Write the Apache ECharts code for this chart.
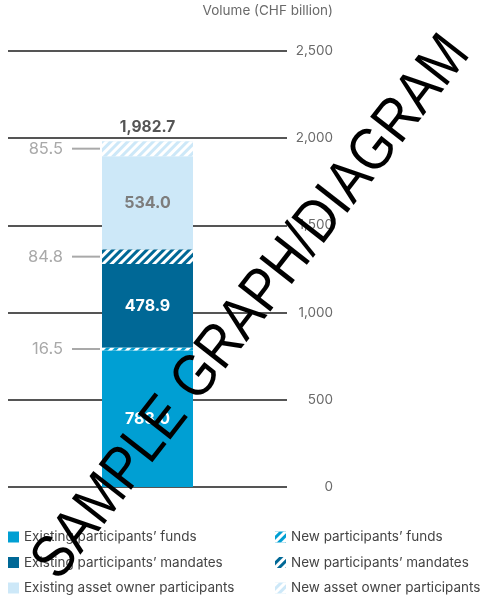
<!DOCTYPE html>
<html>
<head>
<meta charset="utf-8">
<script src="https://cdn.jsdelivr.net/npm/echarts@6/dist/echarts.min.js"></script>
<style>
html,body{margin:0;padding:0;background:#fff;}
#chart{width:485px;height:599px;}
</style>
</head>
<body>
<div id="chart"></div>
<script>
const categories = ['Volume'];
const seriesNames = [
  'Existing participants\u2019 funds',
  'New participants\u2019 funds',
  'Existing participants\u2019 mandates',
  'New participants\u2019 mandates',
  'Existing asset owner participants',
  'New asset owner participants'
];
const existingFunds = [783.0];
const newFunds = [16.5];
const existingMandates = [478.9];
const newMandates = [84.8];
const existingAssetOwners = [534.0];
const newAssetOwners = [85.5];
const yMin = 0, yMax = 2500, yInterval = 500;
const axisTitle = 'Volume (CHF billion)';
const watermark = 'SAMPLE GRAPH/DIAGRAM';

const colors = {
  funds: '#009fd3',
  mandates: '#006896',
  owners: '#cde8f8'
};
const FONT = 'Inter, "Noto Sans", sans-serif';

const totals = categories.map((_, i) =>
  existingFunds[i] + newFunds[i] + existingMandates[i] + newMandates[i] + existingAssetOwners[i] + newAssetOwners[i]);

function hatch() {
  return {
    symbol: 'rect',
    symbolSize: 1,
    dashArrayX: [1, 0],
    dashArrayY: [2.5, 3],
    rotation: -Math.PI / 4,
    color: '#ffffff'
  };
}

function insideLabel(color) {
  return {
    show: true,
    position: 'inside',
    color: color,
    fontFamily: FONT,
    fontSize: 16,
    fontWeight: 'bold',
    formatter: p => p.value.toFixed(1)
  };
}
const sideLabel = {
  show: true,
  position: 'left',
  distance: 2,
  formatter: p => '{v|' + p.value.toFixed(1) + '}{l|}',
  rich: {
    v: { color: '#a9a9a9', fontFamily: FONT, fontSize: 16.5, padding: [0, 9, 0, 0] },
    l: { width: 28, height: 2, backgroundColor: '#a9a9a9' }
  }
};

function solid(name, data, color, labelColor) {
  return {
    name, type: 'bar', stack: 'total', data, barWidth: 91,
    itemStyle: { color },
    label: insideLabel(labelColor),
    emphasis: { disabled: true }, z: 3
  };
}
function hatched(name, data, color) {
  return {
    name, type: 'bar', stack: 'total', data, barWidth: 91,
    itemStyle: { color, decal: hatch() },
    label: sideLabel,
    emphasis: { disabled: true }, z: 3
  };
}

const legendText = { color: '#444444', fontFamily: FONT, fontSize: 13.5, lineHeight: 14 };

const option = {
  animation: false,
  aria: { enabled: false },
  grid: { left: 8, right: 198, top: 51, bottom: 112, containLabel: false },
  xAxis: {
    type: 'category', data: categories,
    show: false
  },
  yAxis: {
    type: 'value', position: 'right', min: yMin, max: yMax, interval: yInterval,
    axisLine: { show: false }, axisTick: { show: false },
    splitLine: { show: true, lineStyle: { color: '#555555', width: 2 } },
    axisLabel: {
      align: 'right', margin: 46, color: '#6a6a6a', fontFamily: FONT, fontSize: 13.5,
      formatter: v => v.toLocaleString('en-US')
    }
  },
  legend: [
    {
      orient: 'vertical', left: 8, top: 530, padding: 0, height: 80,
      itemWidth: 11, itemHeight: 11, itemGap: 11.5,
      icon: 'rect', selectedMode: false, textStyle: legendText,
      data: [seriesNames[0], seriesNames[2], seriesNames[4]]
    },
    {
      orient: 'vertical', left: 275, top: 530, padding: 0, height: 80,
      itemWidth: 11, itemHeight: 11, itemGap: 11.5,
      icon: 'rect', selectedMode: false, textStyle: legendText,
      data: [seriesNames[1], seriesNames[3], seriesNames[5]]
    }
  ],
  series: [
    solid(seriesNames[0], existingFunds, colors.funds, '#ffffff'),
    hatched(seriesNames[1], newFunds, colors.funds),
    solid(seriesNames[2], existingMandates, colors.mandates, '#ffffff'),
    hatched(seriesNames[3], newMandates, colors.mandates),
    solid(seriesNames[4], existingAssetOwners, colors.owners, '#7d7d7d'),
    hatched(seriesNames[5], newAssetOwners, colors.owners),
    {
      name: 'Total', type: 'scatter', data: totals, symbolSize: 0, z: 4,
      label: {
        show: true, position: 'top', distance: 6, color: '#2b2b2b',
        fontFamily: FONT, fontSize: 15.5, fontWeight: 'bold',
        formatter: p => p.value.toLocaleString('en-US', { minimumFractionDigits: 1, maximumFractionDigits: 1 })
      },
      emphasis: { disabled: true }
    }
  ],
  graphic: [
    {
      type: 'text', right: 152, top: 4,
      style: { text: axisTitle, fill: '#6a6a6a', font: '13.5px ' + FONT }
    },
    {
      type: 'text', x: 252, y: 308, rotation: 52 * Math.PI / 180, scaleX: 0.87, scaleY: 1, z: 100,
      style: {
        text: watermark, fill: '#000000', font: '60px "Liberation Sans", Arial, sans-serif',
        align: 'center', verticalAlign: 'middle'
      }
    }
  ]
};

const chart = echarts.init(document.getElementById('chart'), null, { renderer: 'canvas' });
chart.setOption(option);
</script>
</body>
</html>
